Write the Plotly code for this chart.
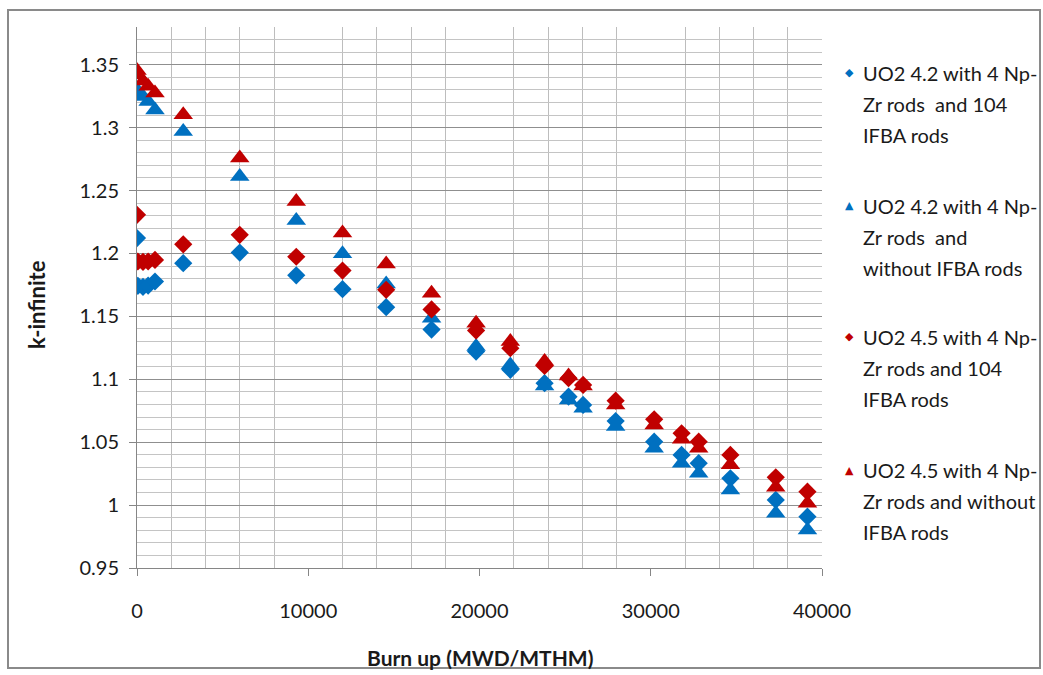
import plotly.graph_objects as go

# Burn-up steps (MWD/MTHM)
burnup = [0, 50, 350, 650, 1050, 2700, 6000, 9300, 12000, 14550, 17200, 19800,
          21800, 23800, 25200, 26050, 27950, 30200, 31800, 32800, 34650, 37300, 39150]

# k-infinite for each fuel configuration
k_42_ifba = [1.2122, 1.1743, 1.1735, 1.1745, 1.1777, 1.1923, 1.2007, 1.1826, 1.1716,
             1.1573, 1.1395, 1.1220, 1.1075, 1.0969, 1.0862, 1.0796, 1.0668, 1.0504,
             1.0399, 1.0333, 1.0213, 1.0041, 0.9908]
k_42_no_ifba = [1.3301, 1.3280, 1.3248, 1.3208, 1.3141, 1.2970, 1.2612, 1.2262, 1.1997,
                1.1758, 1.1486, 1.1260, 1.1114, 1.0947, 1.0836, 1.0770, 1.0624, 1.0452,
                1.0333, 1.0253, 1.0120, 0.9935, 0.9802]
k_45_ifba = [1.2307, 1.1936, 1.1933, 1.1936, 1.1949, 1.2073, 1.2148, 1.1974, 1.1864,
             1.1711, 1.1555, 1.1387, 1.1247, 1.1106, 1.1009, 1.0955, 1.0830, 1.0682,
             1.0571, 1.0504, 1.0399, 1.0221, 1.0107]
k_45_no_ifba = [1.3455, 1.3420, 1.3370, 1.3330, 1.3275, 1.3102, 1.2758, 1.2413, 1.2162,
                1.1917, 1.1684, 1.1446, 1.1300, 1.1141, 1.1027, 1.0947, 1.0796, 1.0637,
                1.0524, 1.0452, 1.0320, 1.0142, 1.0014]

series_names = [
    "UO2 4.2 with 4 Np-Zr rods  and 104 IFBA rods",
    "UO2 4.2 with 4 Np-Zr rods  and without IFBA rods",
    "UO2 4.5 with 4 Np-Zr rods and 104 IFBA rods",
    "UO2 4.5 with 4 Np-Zr rods and without IFBA rods",
]
# Wrapped legend lines for each series
legend_lines = [
    ["UO2 4.2 with 4 Np-", "Zr rods\u00a0 and 104", "IFBA rods"],
    ["UO2 4.2 with 4 Np-", "Zr rods\u00a0 and", "without IFBA rods"],
    ["UO2 4.5 with 4 Np-", "Zr rods and 104", "IFBA rods"],
    ["UO2 4.5 with 4 Np-", "Zr rods and without", "IFBA rods"],
]

BLUE = "#0070C0"
RED = "#C00000"
series_data = [k_42_ifba, k_42_no_ifba, k_45_ifba, k_45_no_ifba]
series_colors = [BLUE, BLUE, RED, RED]
series_symbols = ["diamond", "triangle-up", "diamond", "triangle-up"]
series_sizes = [14, 17, 14, 17]
legend_glyphs = ["\u25C6", "\u25B2", "\u25C6", "\u25B2"]

FONT = "Lato, Carlito, 'Open Sans', sans-serif"
TEXT = "#1a1a1a"

fig = go.Figure()
for name, ys, col, sym, sz in zip(series_names, series_data, series_colors,
                                   series_symbols, series_sizes):
    fig.add_trace(go.Scatter(
        x=burnup, y=ys, name=name, mode="markers",
        marker=dict(symbol=sym, size=sz, color=col, line=dict(width=0)),
        showlegend=False,
    ))

# Plot-area pixel geometry used for placing the legend text
L, R, T, B = 137, 822, 27, 568
W, H = R - L, B - T


def px_x(p):
    return (p - L) / W


def px_y(p):
    return (B - p) / H


annotations = []
entry_tops = [73, 206, 337, 470]
line_gap = 31
for lines, glyph, col, top in zip(legend_lines, legend_glyphs, series_colors, entry_tops):
    annotations.append(dict(
        x=px_x(849), y=px_y(top), xref="paper", yref="paper", text=glyph,
        showarrow=False, xanchor="center", yanchor="middle",
        font=dict(family="DejaVu Sans", size=11, color=col),
    ))
    for i, line in enumerate(lines):
        annotations.append(dict(
            x=px_x(861), y=px_y(top + i * line_gap), xref="paper", yref="paper",
            text=line, showarrow=False, xanchor="left", yanchor="middle",
            font=dict(family=FONT, size=20, color=TEXT),
        ))

# Axis titles
annotations.append(dict(
    x=0.5, y=px_y(657), xref="paper", yref="paper", text="<b>Burn up (MWD/MTHM)</b>",
    showarrow=False, xanchor="center", yanchor="middle",
    font=dict(family=FONT, size=21, color=TEXT),
))
annotations.append(dict(
    x=px_x(36), y=px_y(305), xref="paper", yref="paper", text="<b>k-infinite</b>",
    showarrow=False, xanchor="center", yanchor="middle", textangle=-90,
    font=dict(family=FONT, size=22, color=TEXT),
))

# Outer chart frame
shapes = [dict(
    type="rect", xref="paper", yref="paper",
    x0=px_x(8), x1=px_x(1040), y0=px_y(668), y1=px_y(10),
    line=dict(color="#8a8a8a", width=2), fillcolor="rgba(0,0,0,0)", layer="below",
)]

fig.update_layout(
    width=1043, height=675,
    margin=dict(l=L, r=1043 - R, t=T, b=675 - B, pad=0),
    paper_bgcolor="white", plot_bgcolor="white",
    font=dict(family=FONT, color=TEXT),
    annotations=annotations, shapes=shapes,
    showlegend=False,
)
fig.update_xaxes(
    range=[0, 40000], dtick=10000, tick0=0, tickformat="d",
    showgrid=False, zeroline=False,
    showline=True, linecolor="#868686", linewidth=1,
    ticks="outside", ticklen=7, tickcolor="#868686",
    ticklabelstandoff=18,
    tickfont=dict(family=FONT, size=20, color=TEXT),
    minor=dict(dtick=2000, tick0=0, showgrid=True, gridcolor="#bdbdbd", gridwidth=1),
    mirror=False,
)
fig.update_yaxes(
    range=[0.95, 1.38], dtick=0.05, tick0=0.95,
    tickvals=[0.95, 1.0, 1.05, 1.1, 1.15, 1.2, 1.25, 1.3, 1.35],
    ticktext=["0.95", "1", "1.05", "1.1", "1.15", "1.2", "1.25", "1.3", "1.35"],
    showgrid=True, gridcolor="#8f8f8f", gridwidth=1, zeroline=False,
    showline=True, linecolor="#868686", linewidth=1,
    ticks="outside", ticklen=7, tickcolor="#868686",
    ticklabelstandoff=6,
    tickfont=dict(family=FONT, size=20, color=TEXT),
    minor=dict(dtick=0.01, tick0=0.95, showgrid=True, gridcolor="#c4c4c4", gridwidth=1),
)

fig.write_html("out.html")
